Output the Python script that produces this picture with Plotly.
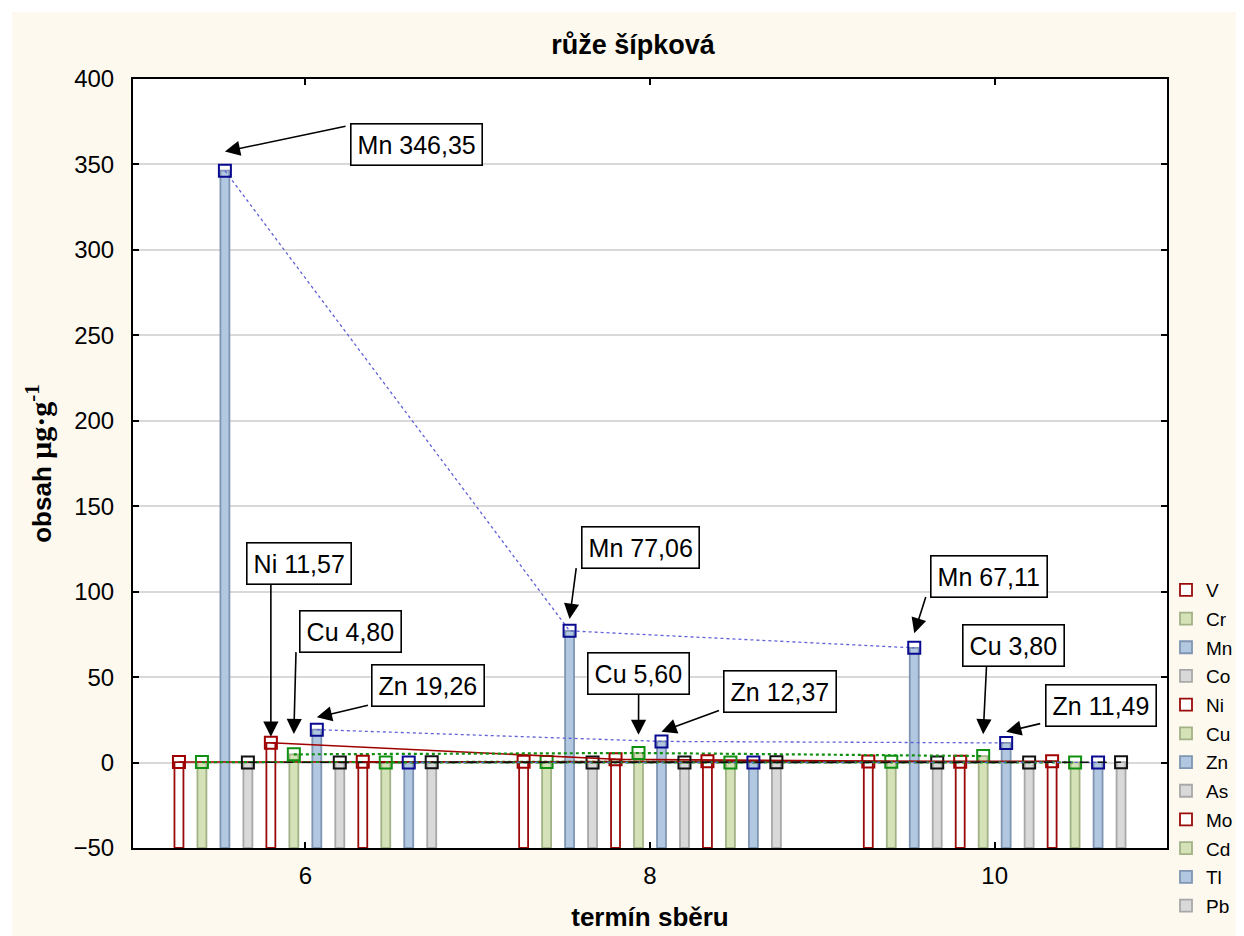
import plotly.graph_objects as go

# ---- data ----
terms = [6, 8, 10]
elements = ["V", "Cr", "Mn", "Co", "Ni", "Cu", "Zn", "As", "Mo", "Cd", "Tl", "Pb"]
V  = [0.3, 0.4, 0.6]
Cr = [0.3, 0.3, 0.4]
Mn = [346.35, 77.06, 67.11]
Co = [0.1, 0.1, 0.1]
Ni = [11.57, 1.9, 0.5]
Cu = [4.80, 5.60, 3.80]
Zn = [19.26, 12.37, 11.49]
As = [0.05, 0.05, 0.05]
Mo = [0.4, 0.7, 0.8]
Cd = [0.1, 0.1, 0.1]
Tl = [0.05, 0.05, 0.05]
Pb = [0.2, 0.2, 0.2]
values = [V, Cr, Mn, Co, Ni, Cu, Zn, As, Mo, Cd, Tl, Pb]

# labelled points: (element, term index, label text)
labels = [
    ("Mn", 0, "Mn 346,35"),
    ("Ni", 0, "Ni 11,57"),
    ("Cu", 0, "Cu 4,80"),
    ("Zn", 0, "Zn 19,26"),
    ("Mn", 1, "Mn 77,06"),
    ("Cu", 1, "Cu 5,60"),
    ("Zn", 1, "Zn 12,37"),
    ("Mn", 2, "Mn 67,11"),
    ("Cu", 2, "Cu 3,80"),
    ("Zn", 2, "Zn 11,49"),
]
# label placement (data units): box centre x/y, arrow tail x/y, arrow head lift above point
label_layout = [
    (6.647, 361.7, 6.242, 372.5, 11.2),
    (5.965, 116.2, 5.800, 105.1, 3.6),
    (6.263, 76.7, 5.946, 65.5, 11.9),
    (6.714, 45.1, 6.372, 33.8, 7.2),
    (7.944, 125.9, 7.573, 114.6, 7.0),
    (7.934, 52.0, 7.934, 40.8, 10.6),
    (8.753, 41.4, 8.409, 30.8, 5.7),
    (9.966, 108.9, 9.603, 97.7, 8.6),
    (10.11, 68.3, 9.953, 57.1, 12.7),
    (10.617, 33.2, 10.273, 23.0, 6.6),
]

# ---- styles ----
bar_fill = {"r": "#ffffff", "g": "#d5e2b8", "b": "#b2c8e0", "k": "#d9d9d9"}
bar_line = {"r": "#9a0a0a", "g": "#a2b287", "b": "#7f95b2", "k": "#a8a8a8"}
mk_color = {"r": "#a00000", "g": "#109010", "b": "#0a0a90", "k": "#111111"}
ln_style = {"r": ("#a00000", "solid", 1.6), "g": ("#109010", "dot", 2.2),
            "b": ("#6060d8", "dot", 1.3), "k": ("#111111", "dash", 1.4)}
cycle = ["r", "g", "b", "k"]

BASE = -50
SPACING = 2 / 15
BARW = 0.052

fig = go.Figure()
for k, (el, vals) in enumerate(zip(elements, values)):
    c = cycle[k % 4]
    xs = [t + (k - 5.5) * SPACING for t in terms]
    fig.add_trace(go.Bar(
        x=xs, y=[v - BASE for v in vals], base=BASE, width=BARW,
        name=el, legendgroup=el,
        marker=dict(color=bar_fill[c], line=dict(color=bar_line[c], width=1.8)),
        hoverinfo="skip",
    ))
for k, (el, vals) in enumerate(zip(elements, values)):
    c = cycle[k % 4]
    xs = [t + (k - 5.5) * SPACING for t in terms]
    lc, ld, lw = ln_style[c]
    fig.add_trace(go.Scatter(
        x=xs, y=vals, mode="lines+markers", name=el, legendgroup=el, showlegend=False,
        line=dict(color=lc, dash=ld, width=lw),
        marker=dict(symbol="square-open", size=12, color=mk_color[c], line=dict(width=2, color=mk_color[c])),
    ))

annotations = []
for (el, ti, txt), (bx, by, tx, ty, hdy) in zip(labels, label_layout):
    k = elements.index(el)
    px = terms[ti] + (k - 5.5) * SPACING
    py = values[k][ti]
    annotations.append(dict(
        x=px, y=py + hdy, ax=tx, ay=ty, axref="x", ayref="y", xref="x", yref="y",
        text="", showarrow=True, arrowhead=2, arrowsize=1.9, arrowwidth=1.6,
        arrowcolor="black", standoff=0, startstandoff=0,
    ))
    annotations.append(dict(
        x=bx, y=by, xref="x", yref="y", text=txt, showarrow=False,
        font=dict(family="Liberation Sans, Arial", size=25, color="black"),
        bgcolor="white", bordercolor="black", borderwidth=1.6, borderpad=6,
    ))

# page offset (browser body margin) between screen pixels and figure pixels
OFF = 8
W, H = 1244, 936
ML, MT = 133 - OFF, 79 - OFF
MR, MB = W - (1167 - OFF), H - (848 - OFF)
PW, PH = W - ML - MR, H - MT - MB


def pxx(p):  # screen px -> paper x
    return (p - OFF - ML) / PW


def pxy(p):  # screen px -> paper y
    return (H - MB - (p - OFF)) / PH


shapes = [
    dict(type="rect", xref="paper", yref="paper", x0=pxx(0), x1=pxx(W + OFF), y0=pxy(12), y1=pxy(0),
         fillcolor="white", line=dict(width=0), layer="below"),
    dict(type="rect", xref="paper", yref="paper", x0=pxx(0), x1=pxx(12), y0=pxy(H + OFF), y1=pxy(0),
         fillcolor="white", line=dict(width=0), layer="below"),
]

axis_font = dict(family="Liberation Sans, Arial", size=24, color="black")
title_font = dict(family="Liberation Sans, Arial", size=26, color="black")
fig.update_layout(
    width=W, height=H,
    margin=dict(l=ML, r=MR, t=MT, b=MB, autoexpand=False),
    paper_bgcolor="#fdf9ef", plot_bgcolor="white",
    barmode="overlay",
    title=dict(text="<b>růže šípková</b>", x=(633 - OFF) / W, xanchor="center", xref="container",
               y=1 - (45 - OFF) / H, yanchor="middle", yref="container",
               font=dict(family="Liberation Sans, Arial", size=27, color="black")),
    xaxis=dict(range=[5, 11], tickvals=[6, 8, 10], ticktext=["6", "8", "10"], automargin=False,
               showgrid=False, zeroline=False, showline=True, linecolor="black", linewidth=2,
               mirror="allticks", ticks="inside", ticklen=6, tickwidth=1.5, tickcolor="black",
               tickfont=axis_font, ticklabelstandoff=5,
               title=dict(text="<b>termín sběru</b>", font=title_font, standoff=20)),
    yaxis=dict(range=[-50, 400], dtick=50, showgrid=True, gridcolor="#d9d9d9", gridwidth=1.5,
               zeroline=False, showline=True, linecolor="black", linewidth=2, automargin=False,
               mirror="allticks", ticks="inside", ticklen=6, tickwidth=1.5, tickcolor="black",
               tickfont=axis_font, ticklabelstandoff=12,
               title=dict(text="<b>obsah <span style='font-family:Liberation Serif;font-size:30px'>µg·g<sup>-1</sup></span></b>",
                          font=title_font, standoff=14)),
    legend=dict(x=pxx(1166), xanchor="left", y=pxy(571), yanchor="top",
                font=dict(family="Liberation Sans, Arial", size=19, color="black"),
                bgcolor="rgba(0,0,0,0)", tracegroupgap=1, traceorder="grouped"),
    annotations=annotations,
    shapes=shapes,
    showlegend=True,
)

fig.write_html("out.html")
